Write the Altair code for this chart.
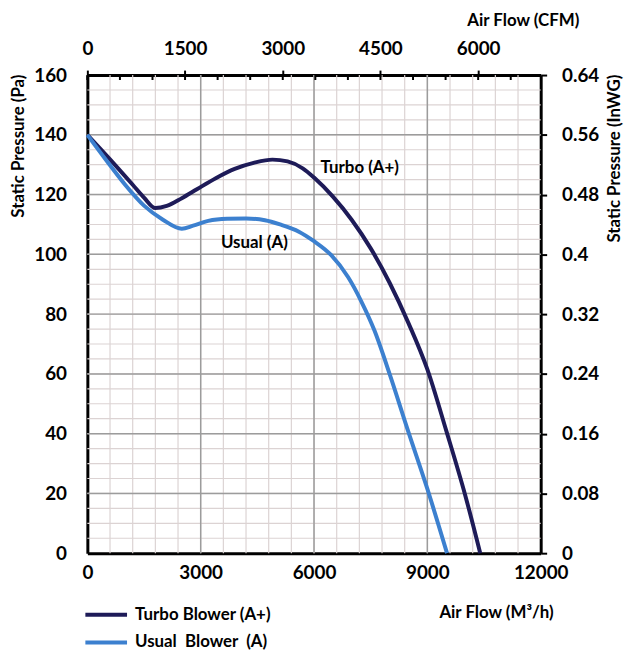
import altair as alt
import pandas as pd

# ---- data ----
turbo_flow = [0, 600, 1200, 1500, 1800, 2100, 2500, 2900, 3400, 3900, 4400, 4900, 5300,
              5700, 6000, 6500, 7000, 7500, 8000, 8500, 9000, 9500, 10000, 10400]
turbo_pa = [140, 131.8, 123.3, 119, 115.5, 116.2, 118.8, 121.8, 125.5, 128.6, 130.6, 131.7, 131.1,
            128.8, 125.7, 119.3, 111.5, 102, 90.5, 77, 61.5, 41, 19.5, 0]

usual_flow = [0, 500, 1000, 1500, 2000, 2500, 2800, 3200, 3700, 4200, 4700, 5100,
              5600, 6000, 6450, 6900, 7250, 7600, 8000, 8500, 9000, 9520]
usual_pa = [140, 131.5, 123.3, 116.3, 111.6, 108.6, 109.6, 111.2, 111.9, 112, 111.4, 110,
            107.6, 104.4, 99.8, 92.4, 84.3, 74.5, 60, 40.5, 21.5, 0]

series_names = ["Turbo Blower (A+)", "Usual\u00a0 Blower\u00a0 (A)"]
series_colors = ["#1e1b58", "#3c80cf"]

note_text = ["Turbo (A+)", "Usual (A)"]
note_flow = [7210, 4420]
note_pa = [129, 103.8]

flow_ticks = [0, 3000, 6000, 9000, 12000]
pa_ticks = [0, 20, 40, 60, 80, 100, 120, 140, 160]
inwg_labels = ["0", "0.08", "0.16", "0.24", "0.32", "0.4", "0.48", "0.56", "0.64"]
cfm_ticks = [0, 1500, 3000, 4500, 6000]
cfm_minor = [0, 500, 1000, 1500, 2000, 2500, 3000, 3500, 4000, 4500, 5000, 5500, 6000, 6500]
cfm_max = 6960

flow_minor_grid = list(range(600, 12000, 600))
pa_minor_grid = list(range(5, 160, 5))
flow_major_grid = [3000, 6000, 9000]
pa_major_grid = [20, 40, 60, 80, 100, 120, 140]

# ---- tables ----
lines_df = pd.concat([
    pd.DataFrame({"flow": turbo_flow, "pa": turbo_pa, "series": series_names[0]}),
    pd.DataFrame({"flow": usual_flow, "pa": usual_pa, "series": series_names[1]}),
])
notes_df = pd.DataFrame({"flow": note_flow, "pa": note_pa, "text": note_text})

W, H = 457, 482
FONT = "Lato"
TICK_FS = 19
TITLE_FS = 17
xs = alt.Scale(domain=[0, 12000], nice=False, zero=False)
ys = alt.Scale(domain=[0, 160], nice=False, zero=False)
cs = alt.Scale(domain=[0, cfm_max], nice=False, zero=False)

minor_col = "#dcd3d3"
major_col = "#9c9c9c"

common_lbl = dict(labelFont=FONT, labelFontSize=TICK_FS, labelFontWeight="bold", labelColor="black",
                  labelFlush=False, labelOverlap=False, grid=False,
                  domain=True, domainColor="black", domainWidth=3)
common_ttl = dict(titleFont=FONT, titleFontSize=TITLE_FS, titleFontWeight="bold", titleColor="black",
                  titleBaseline="middle")

vgrid_minor = alt.Chart(pd.DataFrame({"v": flow_minor_grid})).mark_rule(
    color=minor_col, strokeWidth=1.2).encode(x=alt.X("v:Q", scale=xs, axis=None))

right_labels = "[" + ",".join("'%s'" % s for s in inwg_labels) + "][datum.value/20]"
hgrid_minor = alt.Chart(pd.DataFrame({"v": pa_minor_grid})).mark_rule(
    color=minor_col, strokeWidth=1.2).encode(
    y=alt.Y("v:Q", scale=ys, axis=alt.Axis(
        orient="right", values=pa_ticks, labelExpr=right_labels,
        ticks=True, tickSize=6, tickWidth=2, tickColor="black",
        labelPadding=15,
        title="Static Pressure (InWG)", titleAngle=270, titleAlign="right",
        titleX=74, titleY=-1, **common_lbl, **common_ttl)))

vgrid_major = alt.Chart(pd.DataFrame({"v": flow_major_grid})).mark_rule(
    color=major_col, strokeWidth=1.5).encode(x=alt.X("v:Q", scale=xs, axis=None))
hgrid_major = alt.Chart(pd.DataFrame({"v": pa_major_grid})).mark_rule(
    color=major_col, strokeWidth=1.5).encode(y=alt.Y("v:Q", scale=ys, axis=None))

top_ticks = alt.Chart(pd.DataFrame({"c": cfm_minor})).mark_rule(
    color="black", strokeWidth=2).encode(
    x=alt.X("c:Q", scale=cs, axis=alt.Axis(
        orient="top", values=cfm_ticks, format="d",
        ticks=True, tickSize=5, tickWidth=2, tickColor="black",
        labelPadding=12,
        title="Air Flow (CFM)", titleAlign="center",
        titleX=439, titleY=-55, **common_lbl, **common_ttl)),
    y=alt.value(0), y2=alt.value(5))

lines = alt.Chart(lines_df).mark_line(strokeWidth=4, interpolate="monotone").encode(
    x=alt.X("flow:Q", scale=xs, axis=alt.Axis(
        orient="bottom", values=flow_ticks, format="d", ticks=False,
        labelPadding=11,
        title="Air Flow (M\u00b3/h)", titleAlign="center",
        titleX=412, titleY=60, **common_lbl, **common_ttl)),
    y=alt.Y("pa:Q", scale=ys, axis=alt.Axis(
        orient="left", values=pa_ticks, ticks=False,
        labelPadding=21,
        title="Static Pressure (Pa)", titleAngle=270, titleAlign="right",
        titleX=-69, titleY=-1, **common_lbl, **common_ttl)),
    color=alt.Color("series:N", scale=alt.Scale(domain=series_names, range=series_colors),
                    legend=alt.Legend(
                        orient="none", legendX=10, legendY=535, title=None,
                        symbolType="M-3,0H3", symbolSize=196, symbolStrokeWidth=4,
                        labelFont=FONT, labelFontSize=17, labelFontWeight="bold",
                        labelColor="black", labelOffset=20, rowPadding=11, padding=0)),
    detail="series:N",
)

notes = alt.Chart(notes_df).mark_text(
    font=FONT, fontSize=17, fontWeight="bold", color="black").encode(
    x=alt.X("flow:Q", scale=xs, axis=None),
    y=alt.Y("pa:Q", scale=ys, axis=None),
    text="text:N")

chart = alt.layer(
    vgrid_minor, hgrid_minor, vgrid_major, hgrid_major, top_ticks, lines, notes
).resolve_scale(x="independent").resolve_axis(y="independent").properties(
    width=W, height=H,
    autosize=alt.AutoSizeParams(type="none"),
    padding={"left": 80, "top": 65, "right": 86, "bottom": 95},
    background="white",
).configure_view(stroke=None)

chart.save("out.html", embed_options={"renderer": "svg", "actions": False})
